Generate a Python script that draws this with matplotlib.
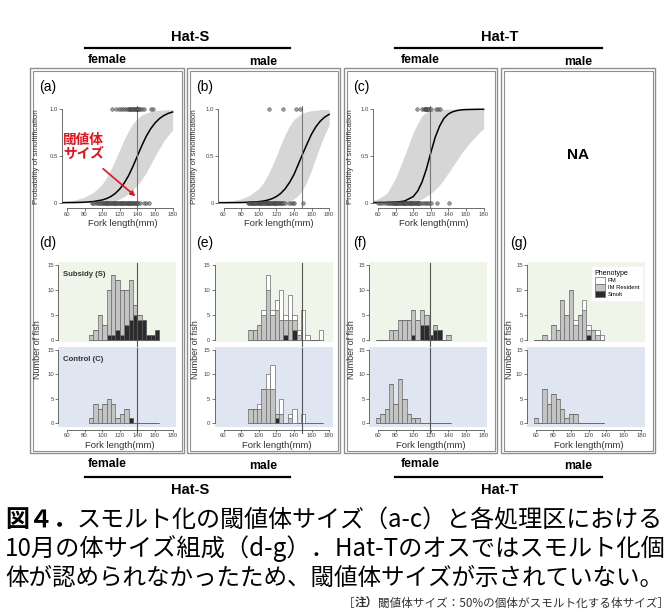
import numpy as np
import matplotlib.pyplot as plt
from matplotlib.patches import Rectangle, Patch, FancyArrowPatch
from matplotlib.lines import Line2D

plt.rcParams['font.family'] = ['Liberation Sans', 'DejaVu Sans']
JP = ['Noto Sans CJK JP', 'DejaVu Sans']

W, H = 670, 612

# ---------------- data ----------------
# logistic fits (a)-(c)
curve_x = [55, 60, 70, 80, 90, 100, 105, 110, 115, 120, 125, 130, 135, 140,
           145, 150, 155, 160, 165, 170, 175, 180]
fit_a = [0.001, 0.001, 0.002, 0.005, 0.012, 0.029, 0.044, 0.067, 0.10, 0.147, 0.21, 0.29,
         0.39, 0.50, 0.61, 0.71, 0.79, 0.853, 0.90, 0.933, 0.956, 0.971]
lo_a = [0, 0, 0, 0, 0.001, 0.003, 0.006, 0.012, 0.022, 0.04, 0.065, 0.10,
        0.14, 0.19, 0.25, 0.32, 0.41, 0.50, 0.58, 0.66, 0.72, 0.78]
hi_a = [0.01, 0.015, 0.03, 0.06, 0.11, 0.20, 0.27, 0.36, 0.46, 0.57, 0.68, 0.77,
        0.85, 0.90, 0.94, 0.96, 0.975, 0.985, 0.99, 0.993, 0.996, 0.998]

fit_b = [0.0002, 0.0003, 0.0007, 0.0017, 0.0044, 0.011, 0.017, 0.027, 0.042, 0.065, 0.099,
         0.148, 0.216, 0.30, 0.41, 0.523, 0.63, 0.733, 0.813, 0.873, 0.916, 0.945]
lo_b = [0, 0, 0, 0, 0, 0, 0, 0, 0.001, 0.002, 0.004, 0.01,
        0.02, 0.04, 0.08, 0.14, 0.23, 0.35, 0.48, 0.61, 0.73, 0.83]
hi_b = [0.005, 0.01, 0.02, 0.04, 0.08, 0.15, 0.21, 0.29, 0.39, 0.50, 0.62, 0.73,
        0.82, 0.89, 0.93, 0.96, 0.975, 0.985, 0.99, 0.995, 0.997, 0.998]

fit_c = [0.0001, 0.0003, 0.001, 0.004, 0.017, 0.065, 0.123, 0.22, 0.36, 0.535, 0.70, 0.82,
         0.904, 0.95, 0.974, 0.987, 0.994, 0.997, 0.998, 0.999, 1.0, 1.0]
lo_c = [0, 0, 0, 0, 0.002, 0.01, 0.02, 0.04, 0.07, 0.10, 0.14, 0.19,
        0.25, 0.32, 0.39, 0.46, 0.53, 0.59, 0.65, 0.70, 0.75, 0.79]
hi_c = [0.03, 0.04, 0.10, 0.26, 0.50, 0.75, 0.85, 0.93, 0.97, 0.985, 0.993, 0.997,
        1.0, 1.0, 1.0, 1.0, 1.0, 1.0, 1.0, 1.0, 1.0, 1.0]

threshold = [140, 149, 119]

# fork lengths of smolts (p=1) and non-smolts (p=0)
smolt_a = [111, 116, 119, 121, 124, 126, 128, 130, 131, 132, 133, 134, 135, 136, 137,
           138, 139, 140, 141, 142, 143, 145, 148, 155, 158]
resid_a = [88, 90, 92, 94, 95, 97, 98, 100, 101, 102, 103, 104, 105, 106, 107, 108, 109,
           110, 111, 112, 113, 114, 115, 116, 117, 118, 119, 120, 121, 122, 123, 124, 125,
           126, 127, 128, 129, 130, 131, 132, 133, 134, 135, 136, 137, 138, 140, 141, 143,
           148, 150, 153]
smolt_b = [112, 128, 142, 147]
resid_b = [88, 89, 90, 91, 92, 93, 94, 95, 96, 97, 98, 99, 100, 101, 102, 103, 104, 105,
           106, 107, 108, 109, 110, 111, 112, 113, 114, 115, 116, 117, 118, 119, 120, 121,
           122, 123, 124, 125, 126, 128, 130, 134, 137, 139, 140, 150]
smolt_c = [104, 110, 112, 113, 114, 115, 116, 117, 118, 120, 126, 128, 130]
resid_c = [60, 62, 65, 68, 70, 72, 73, 75, 76, 77, 78, 79, 80, 81, 82, 83, 84, 85, 86, 87,
           88, 89, 90, 91, 92, 93, 94, 95, 96, 97, 98, 99, 100, 101, 102, 103, 104, 105, 106,
           107, 108, 110, 112, 114, 116, 118, 120, 127, 141]

# October size histograms (5 mm bins), counts per phenotype
d_start = 85
d_s_smolt = [0, 0, 0, 0, 1, 1, 2, 1, 3, 4, 5, 4, 4, 1, 1, 2]
d_s_im = [1, 2, 5, 3, 9, 12, 10, 9, 7, 8, 2, 1, 0, 0, 0, 0]
d_s_pm = [0] * 16
d_c_smolt = [0, 0, 0, 0, 0, 0, 0, 0, 0, 1, 0, 0, 0, 0, 0, 0]
d_c_im = [1, 4, 3, 4, 5, 4, 1, 2, 3, 0, 0, 0, 0, 0, 0, 0]
d_c_pm = [0] * 16

e_start = 88
e_s_smolt = [0, 0, 0, 0, 0, 0, 0, 0, 1, 0, 2, 0, 0, 0, 0, 0, 0]
e_s_im = [2, 2, 3, 5, 10, 5, 6, 4, 3, 4, 2, 1, 0, 0, 0, 0, 0]
e_s_pm = [0, 0, 0, 1, 3, 1, 2, 6, 1, 5, 1, 1, 6, 1, 0, 0, 2]
e_c_smolt = [0, 0, 0, 0, 0, 0, 1, 0, 0, 0, 0, 0, 0, 0, 0, 0, 0]
e_c_im = [3, 3, 3, 7, 7, 7, 1, 2, 0, 1, 0, 0, 0, 0, 0, 0, 0]
e_c_pm = [0, 0, 1, 0, 3, 5, 0, 3, 0, 1, 3, 0, 2, 0, 0, 0, 0]

f_start = 57.5
f_s_smolt = [0, 0, 0, 0, 0, 0, 0, 0, 1, 0, 3, 3, 1, 2, 2, 0, 0]
f_s_im = [0, 0, 0, 2, 2, 4, 4, 4, 5, 4, 3, 2, 0, 1, 0, 0, 1]
f_s_pm = [0] * 17
f_c_smolt = [0] * 17
f_c_im = [1, 2, 3, 8, 4, 9, 5, 2, 1, 1, 0, 0, 0, 0, 0, 0, 0]
f_c_pm = [0] * 17

g_start = 57.5
g_s_smolt = [0, 0, 0, 0, 0, 0, 0, 0, 0, 0, 0, 0, 1, 0, 0, 0]
g_s_im = [0, 0, 1, 0, 3, 2, 8, 5, 10, 3, 5, 6, 1, 2, 1, 0]
g_s_pm = [0, 0, 0, 0, 0, 0, 0, 0, 0, 1, 0, 2, 1, 0, 1, 1]
g_c_smolt = [0] * 16
g_c_im = [1, 0, 7, 4, 6, 5, 3, 1, 2, 2, 0, 0, 0, 0, 0, 0]
g_c_pm = [0] * 16

phenotypes = ['PM', 'IM Resident', 'Smolt']
x_ticks = [60, 80, 100, 120, 140, 160, 180]

# ---------------- layout helpers ----------------
fig = plt.figure(figsize=(W / 100, H / 100), dpi=100)
fig.patch.set_facecolor('white')


def px_axes(x0, y0, x1, y1):
    return fig.add_axes([x0 / W, 1 - y1 / H, (x1 - x0) / W, (y1 - y0) / H])


def ftext(x, y, s, **kw):
    return fig.text(x / W, 1 - y / H, s, **kw)


def fline(x0, x1, y0, y1, **kw):
    fig.add_artist(Line2D([x0 / W, x1 / W], [1 - y0 / H, 1 - y1 / H], **kw))


def frect(x0, y0, x1, y1, **kw):
    fig.add_artist(Rectangle((x0 / W, 1 - y1 / H), (x1 - x0) / W, (y1 - y0) / H,
                             fill=False, **kw))


MM = 0.88            # pixels per mm
x60 = [67, 223.5, 378, 535.7]   # pixel position of the 60 mm tick, per column
boxes = [(30, 184), (187, 340), (344, 497), (501, 655)]
tick_kw = dict(labelsize=4.3, length=2, width=0.5, colors='#444444', pad=1.0)

# panel frames (double gray border)
for bx0, bx1 in boxes:
    frect(bx0, 68, bx1, 453, lw=1.0, edgecolor='#8f8f8f')
    frect(bx0 + 2.5, 70.5, bx1 - 2.5, 450.5, lw=0.8, edgecolor='#8f8f8f')


def scatter_panel(col, fit, lo, hi, smolt, resid, thr):
    left = x60[col] + (54 - 60) * MM
    ax = px_axes(left, 106, left + 131 * MM, 208)
    ax.set_xlim(54, 185)
    ax.set_ylim(-0.057, 1.035)
    ax.fill_between(curve_x, lo, hi, color='#d6d6d6', lw=0)
    ax.plot(curve_x, fit, color='black', lw=1.1)
    ax.axvline(thr, color='#7a7a7a', lw=0.8)
    ax.plot(resid, [0] * len(resid), 'o', ms=2.6, mfc='#6e6e6e', mec='#2a2a2a',
            mew=0.4, alpha=0.65, clip_on=False)
    ax.plot(smolt, [1] * len(smolt), 'o', ms=2.6, mfc='#6e6e6e', mec='#2a2a2a',
            mew=0.4, alpha=0.65, clip_on=False)
    for s in ['top', 'right']:
        ax.spines[s].set_visible(False)
    ax.spines['left'].set_bounds(0, 1)
    ax.spines['bottom'].set_bounds(60, 180)
    for s in ['left', 'bottom']:
        ax.spines[s].set_linewidth(0.6)
        ax.spines[s].set_color('#555555')
    ax.set_xticks(x_ticks)
    ax.set_yticks([0, 0.5, 1.0])
    ax.set_yticklabels(['0', '0.5', '1.0'])
    ax.tick_params(**tick_kw)
    ax.set_facecolor('none')
    cx = left + 131 * MM / 2
    ftext(cx + 3, 223, 'Fork length(mm)', fontsize=6.8, ha='center', va='center',
          color='#333333')
    ftext(boxes[col][0] + 7, 157, 'Probability of smoltification', fontsize=5.8,
          rotation=90, ha='center', va='center', color='#333333')
    return ax


def hist_bars(ax, start, smolt, im, pm):
    smolt = np.array(smolt)
    im = np.array(im)
    pm = np.array(pm)
    lefts = start + 5 * np.arange(len(im))
    ax.bar(lefts, smolt, width=5, align='edge', color='#2b2b2b', edgecolor='#555555',
           lw=0.5)
    ax.bar(lefts, im, bottom=smolt, width=5, align='edge', color='#c4c4c4',
           edgecolor='#6a6a6a', lw=0.5)
    ax.bar(lefts, pm, bottom=smolt + im, width=5, align='edge', color='white',
           edgecolor='#6a6a6a', lw=0.5)


def hist_panel(col, top, bottom, thr=None, labels=False):
    left = x60[col] + (50 - 60) * MM
    right = left + 134 * MM
    ax_t = px_axes(left, 262, right, 342)
    ax_b = px_axes(left, 347, right, 427)
    for ax, data, bg, yl in [(ax_t, top, '#f0f5ea', (-0.5, 15.7)),
                             (ax_b, bottom, '#dfe6f2', (-0.75, 15.6))]:
        ax.set_facecolor(bg)
        hist_bars(ax, *data)
        ax.set_xlim(50, 184)
        ax.set_ylim(*yl)
        for s in ['top', 'right']:
            ax.spines[s].set_visible(False)
        ax.spines['left'].set_bounds(0, 15)
        ax.spines['left'].set_linewidth(0.6)
        ax.spines['left'].set_color('#555555')
        ax.set_yticks([0, 5, 10, 15])
        ax.tick_params(**tick_kw)
        if thr is not None:
            ax.axvline(thr, color='#555555', lw=0.8, ymin=-0.07, ymax=0.99,
                       clip_on=False)
    ax_t.spines['bottom'].set_visible(False)
    ax_t.set_xticks([])
    ax_b.spines['bottom'].set_bounds(60, 180)
    ax_b.spines['bottom'].set_position(('outward', 2))
    ax_b.spines['bottom'].set_linewidth(0.6)
    ax_b.spines['bottom'].set_color('#555555')
    ax_b.set_xticks(x_ticks)
    ax_b.tick_params(axis='x', length=1.5, pad=0.8)
    if labels:
        ax_t.text(0.04, 0.84, 'Subsidy (S)', transform=ax_t.transAxes, fontsize=5.6,
                  fontweight='bold', color='#333333', va='center')
        ax_b.text(0.04, 0.84, 'Control (C)', transform=ax_b.transAxes, fontsize=5.6,
                  fontweight='bold', color='#333333', va='center')
    ftext((left + right) / 2 + 3, 446, 'Fork length(mm)', fontsize=6.8, ha='center',
          va='center', color='#333333')
    ftext(boxes[col][0] + 8, 350, 'Number of fish', fontsize=6.5, rotation=90,
          ha='center', va='center', color='#333333')
    return ax_t, ax_b


# ---------------- top row: logistic fits ----------------
ax_a = scatter_panel(0, fit_a, lo_a, hi_a, smolt_a, resid_a, threshold[0])
scatter_panel(1, fit_b, lo_b, hi_b, smolt_b, resid_b, threshold[1])
scatter_panel(2, fit_c, lo_c, hi_c, smolt_c, resid_c, threshold[2])
ftext(578, 155, 'NA', fontsize=11, fontweight='bold', ha='center', va='center')

# threshold annotation in (a)
ftext(63, 147, '閾値体\nサイズ', family=JP, fontsize=9.8, fontweight='bold',
      color='#e0141e', ha='left', va='center', linespacing=1.05)
fig.add_artist(FancyArrowPatch((101 / W, 1 - 167 / H), (137.5 / W, 1 - 198 / H),
                               transform=fig.transFigure, arrowstyle='-|>',
                               mutation_scale=7, color='#e0141e', lw=1.2))

# ---------------- bottom row: histograms ----------------
hist_panel(0, (d_start, d_s_smolt, d_s_im, d_s_pm), (d_start, d_c_smolt, d_c_im, d_c_pm),
           thr=threshold[0], labels=True)
hist_panel(1, (e_start, e_s_smolt, e_s_im, e_s_pm), (e_start, e_c_smolt, e_c_im, e_c_pm),
           thr=threshold[1])
hist_panel(2, (f_start, f_s_smolt, f_s_im, f_s_pm), (f_start, f_c_smolt, f_c_im, f_c_pm),
           thr=threshold[2])
g_top, g_bot = hist_panel(3, (g_start, g_s_smolt, g_s_im, g_s_pm),
                          (g_start, g_c_smolt, g_c_im, g_c_pm))
handles = [Patch(facecolor=c, edgecolor='#6a6a6a', lw=0.5)
           for c in ['white', '#c4c4c4', '#2b2b2b']]
leg = g_top.legend(handles, phenotypes, title='Phenotype', loc='upper right',
                   fontsize=4.2, title_fontsize=5.0, frameon=True, fancybox=False,
                   edgecolor='white', framealpha=1, handlelength=1.7,
                   handleheight=1.45, borderpad=0.5, labelspacing=0.0,
                   handletextpad=0.5, borderaxespad=0, bbox_to_anchor=(0.976, 0.94))
leg._legend_box.align = 'left'

# panel letters
for i, (bx0, _) in enumerate(boxes):
    if i < 3:
        ftext(bx0 + 9, 87, '(' + 'abc'[i] + ')', fontsize=10, va='center')
    ftext(bx0 + 9, 243, '(' + 'defg'[i] + ')', fontsize=10, va='center')

# ---------------- headers / footers ----------------
for cx, lx0, lx1, name, fx, mx in [(190, 85, 290, 'Hat-S', 107, 263),
                                   (500, 395, 602, 'Hat-T', 420, 578)]:
    ftext(cx, 37, name, fontsize=10.5, fontweight='bold', ha='center', va='center')
    fline(lx0, lx1, 48, 48, color='black', lw=1.6)
    ftext(fx, 60, 'female', fontsize=8.8, fontweight='bold', ha='center', va='center')
    ftext(mx, 62, 'male', fontsize=8.8, fontweight='bold', ha='center', va='center')
    ftext(fx, 464, 'female', fontsize=8.8, fontweight='bold', ha='center', va='center')
    ftext(mx, 466, 'male', fontsize=8.8, fontweight='bold', ha='center', va='center')
    fline(lx0, lx1, 477, 477, color='black', lw=1.6)
    ftext(cx, 490, name, fontsize=10.5, fontweight='bold', ha='center', va='center')

# ---------------- caption ----------------
r = fig.canvas.get_renderer()


def fit_line(y, parts, x0=5, x1=665, size=17.0, **kw):
    # parts: list of (text, weight); scaled so the line spans x0..x1
    texts = [ftext(x0, y, s, family=JP, fontsize=size, fontweight=wt, va='center', **kw)
             for s, wt in parts]
    total = sum(t.get_window_extent(r).width for t in texts)
    scale = (x1 - x0) / total
    x = x0
    for t in texts:
        t.set_fontsize(size * scale)
        t.set_x(x / W)
        x += t.get_window_extent(r).width


fit_line(520, [('図４．', 'bold'), ('スモルト化の閾値体サイズ（a-c）と各処理区における', 'normal')])
fit_line(549, [('10月の体サイズ組成（d-g）．Hat-Tのオスではスモルト化個', 'normal')])
fit_line(578, [('体が認められなかったため、閾値体サイズが示されていない。', 'normal')])
fit_line(603, [('［', 'normal'), ('注）', 'bold'),
               ('閾値体サイズ：50%の個体がスモルト化する体サイズ］', 'normal')],
         x0=343, x1=666, size=8.6, color='#333333')

fig.savefig('out.png', dpi=100)
